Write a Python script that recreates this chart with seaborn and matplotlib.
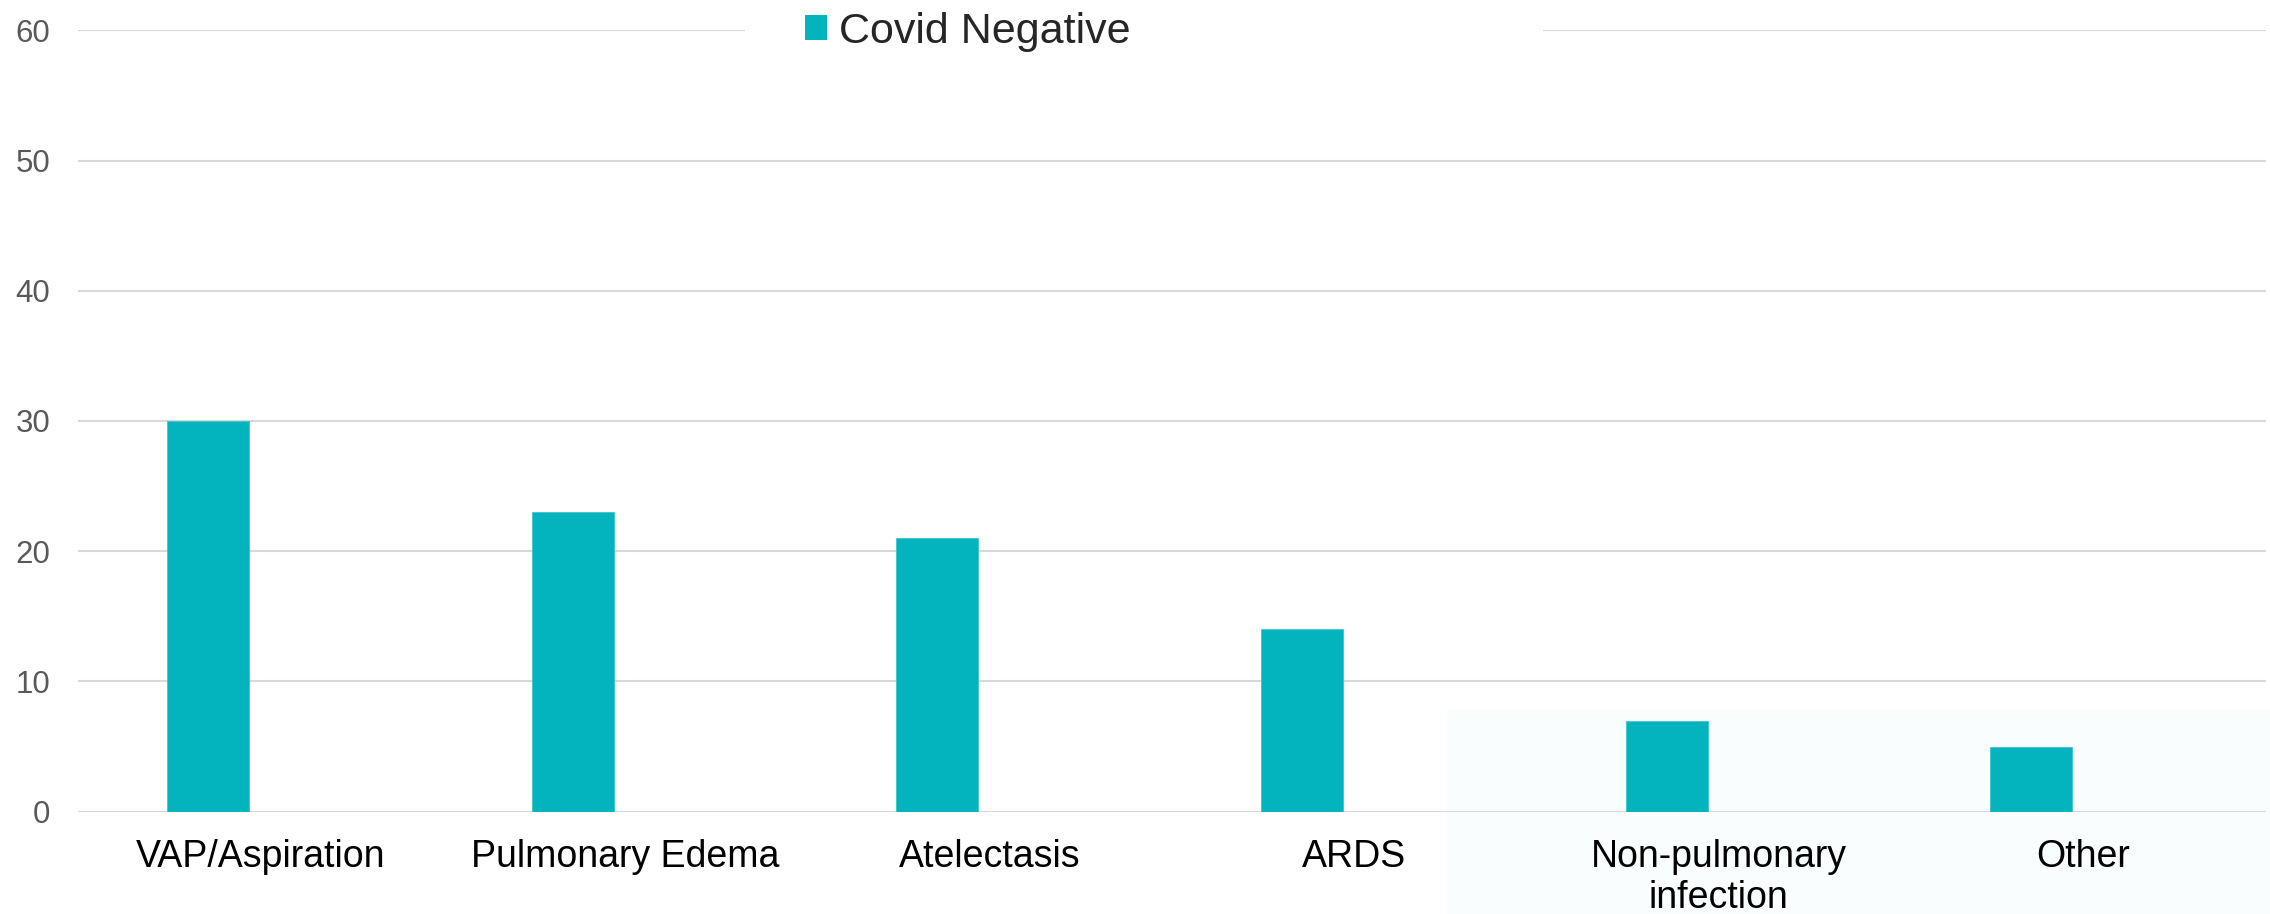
import matplotlib
matplotlib.use("Agg")
import matplotlib.pyplot as plt
from matplotlib.patches import Patch, Rectangle
import pandas as pd
import seaborn as sns

categories = ["VAP/Aspiration", "Pulmonary Edema", "Atelectasis", "ARDS",
              "Non-pulmonary\ninfection", "Other"]
covid_negative = [30, 23, 21, 14, 7, 5]
series_name = "Covid Negative"
y_ticks = [0, 10, 20, 30, 40, 50, 60]

BAR_COLOR = "#03b4be"
GRID_COLOR = "#d9d9d9"

sns.set_style("white")
plt.rcParams["font.family"] = ["Liberation Sans", "DejaVu Sans"]

W, H = 2270, 914
fig = plt.figure(figsize=(W / 100, H / 100), dpi=100)
fig.patch.set_facecolor("white")

# faint tinted panel in the lower right
fig.patches.append(Rectangle((1447 / W, 0), 1 - 1447 / W, (914 - 710) / H,
                             transform=fig.transFigure, facecolor="#fafdfd",
                             edgecolor="none", zorder=-5))

ax = fig.add_axes([78 / W, (H - 811.7) / H, (2265.5 - 78) / W, (811.7 - 30.3) / H])
ax.set_facecolor("none")

df = pd.DataFrame({"category": categories, "value": covid_negative})
sns.barplot(data=df, x="category", y="value", color=BAR_COLOR, width=0.225,
            saturation=1, ax=ax)
for p in ax.patches:
    p.set_edgecolor("#3cc4cc")
    p.set_linewidth(0.6)

# category slots are centred slightly right of each bar
offset = 0.1426
ax.set_xlim(-0.5 + offset, len(categories) - 0.5 + offset)
ax.set_xticks([i + offset for i in range(len(categories))])
ax.set_xticklabels(categories, fontsize=27, color="black", linespacing=1.15)

ax.set_ylim(0, 60)
ax.set_yticks(y_ticks)
ax.set_yticklabels([str(v) for v in y_ticks], fontsize=22.5, color="#595959")

ax.tick_params(axis="x", length=0, pad=20)
ax.tick_params(axis="y", length=0, pad=20)
ax.set_xlabel("")
ax.set_ylabel("")
for s in ax.spines.values():
    s.set_visible(False)
ax.yaxis.grid(True, color=GRID_COLOR, linewidth=1.5)
ax.xaxis.grid(False)
ax.set_axisbelow(True)

# white legend band over the top gridline
ax.add_patch(Rectangle((745 / W, (H - 60) / H), (1543 - 745) / W, 60 / H,
                       transform=fig.transFigure, facecolor="white",
                       edgecolor="none", clip_on=False, zorder=3))
handles = [Patch(facecolor=BAR_COLOR, edgecolor="none", label=series_name)]
leg = ax.legend(handles=handles, loc="center left", frameon=False,
                bbox_to_anchor=(805 / W, (H - 32) / H), bbox_transform=fig.transFigure,
                fontsize=31, handlelength=0.52, handleheight=0.52,
                handletextpad=0.28, borderpad=0, borderaxespad=0)
leg.set_zorder(5)

fig.savefig("out.png", dpi=100, facecolor="white")
